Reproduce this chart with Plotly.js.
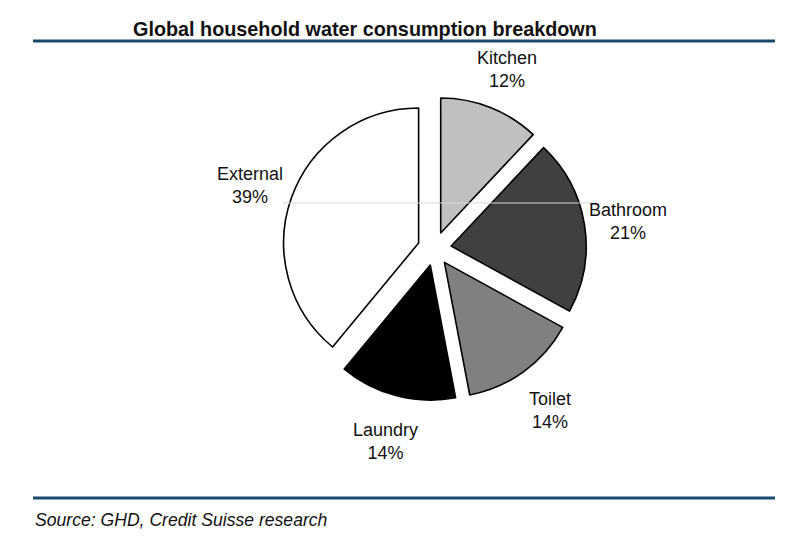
<!DOCTYPE html>
<html>
<head>
<meta charset="utf-8">
<script src="https://cdn.plot.ly/plotly-3.0.1.min.js"></script>
<style>html,body{margin:0;padding:0;background:#fff;}#chart{width:798px;height:548px;}</style>
</head>
<body>
<div id="chart"></div>
<script>
// ---- data ----
const categories = ["Kitchen", "Bathroom", "Toilet", "Laundry", "External"];
const shares = [12, 21, 14, 14, 39];
const sliceColors = ["#c0c0c0", "#404040", "#808080", "#000000", "#ffffff"];
const chartTitle = "Global household water consumption breakdown";
const sourceNote = "Source: GHD, Credit Suisse research";

// ---- layout geometry ----
const W = 798, H = 548;
const pull = 0.125;
const cx = 434.5, cy = 248.7, R = 135;
const half = R * (1 + pull);
const domX = [(cx - half) / W, (cx + half) / W];
const domY = [(H - cy - half) / H, (H - cy + half) / H];

// label annotations placed along each slice's mid-angle (computed from values)
const total = shares.reduce((a, b) => a + b, 0);
let cum = 0;
const labelAnns = categories.map((c, i) => {
  const mid = (cum + shares[i] / 2) / total * 2 * Math.PI;
  cum += shares[i];
  const r = 1.45 * R;
  const px = cx + r * Math.sin(mid);
  const py = cy - r * Math.cos(mid) + 3;
  return {
    xref: "paper", yref: "paper",
    x: px / W, y: 1 - py / H,
    xanchor: "center", yanchor: "middle",
    text: c + "<br>" + shares[i] + "%",
    showarrow: false,
    align: "center",
    font: {family: "Liberation Sans, Arial, sans-serif", size: 18, color: "#111"}
  };
});

const trace = {
  type: "pie",
  labels: categories,
  values: shares,
  sort: false,
  direction: "clockwise",
  rotation: 0,
  pull: shares.map(() => pull),
  marker: {colors: sliceColors, line: {color: "#000", width: 1.6}},
  textinfo: "none",
  hoverinfo: "label+percent",
  domain: {x: domX, y: domY},
  showlegend: false
};

const lineColor = "#1b4a6f";
const layout = {
  width: W, height: H,
  margin: {l: 0, r: 0, t: 0, b: 0},
  paper_bgcolor: "#fff",
  plot_bgcolor: "#fff",
  showlegend: false,
  title: {
    text: "<b>" + chartTitle + "</b>",
    x: 133 / W, xanchor: "left", xref: "paper",
    y: 1 - 29 / H, yanchor: "middle", yref: "container",
    font: {family: "Liberation Sans, Arial, sans-serif", size: 19.8, color: "#111"}
  },
  shapes: [
    {type: "line", xref: "paper", yref: "paper", x0: 33 / W, x1: 775 / W, y0: 1 - 41 / H, y1: 1 - 41 / H, line: {color: lineColor, width: 3}},
    {type: "line", xref: "paper", yref: "paper", x0: 33 / W, x1: 775 / W, y0: 1 - 498 / H, y1: 1 - 498 / H, line: {color: lineColor, width: 3}},
    {type: "line", xref: "paper", yref: "paper", layer: "above", x0: 283 / W, x1: 598 / W, y0: 1 - 203 / H, y1: 1 - 203 / H, line: {color: "#d6d6d6", width: 1}}
  ],
  annotations: labelAnns.concat([{
    xref: "paper", yref: "paper",
    x: 33 / W, y: 1 - 520 / H,
    xanchor: "left", yanchor: "middle",
    text: "<i>" + sourceNote + "</i>",
    showarrow: false,
    font: {family: "Liberation Sans, Arial, sans-serif", size: 17.6, color: "#111"}
  }])
};

Plotly.newPlot("chart", [trace], layout, {displayModeBar: false, staticPlot: true});
</script>
</body>
</html>
